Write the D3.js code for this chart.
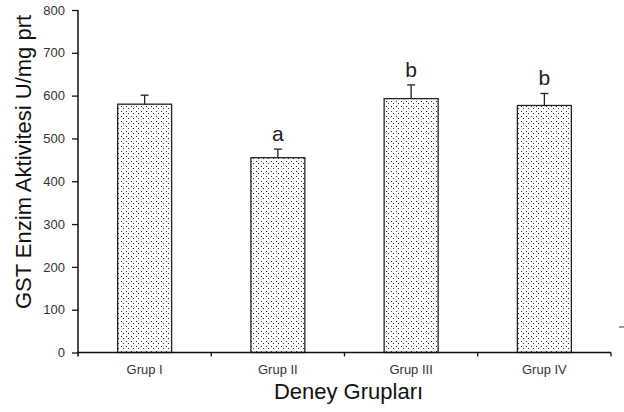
<!DOCTYPE html>
<html><head><meta charset="utf-8">
<script src="https://cdn.jsdelivr.net/npm/d3@7"></script>
<style>body{margin:0;background:#fff}svg{display:block}text{font-family:Arial,"Liberation Sans",sans-serif}</style>
</head><body><svg id="c" width="624" height="412"></svg>
<script>
const groups = ["Grup I","Grup II","Grup III","Grup IV"];
const means = [580, 455, 593, 577];
const errors = [21, 20, 32, 28];
const letters = ["", "a", "b", "b"];
const yTicks = [0,100,200,300,400,500,600,700,800];

const svg = d3.select("#c");
const defs = svg.append("defs");
const pat = defs.append("pattern").attr("id","dots").attr("patternUnits","userSpaceOnUse")
  .attr("width",5).attr("height",5);
pat.append("rect").attr("width",5).attr("height",5).attr("fill","#fff");
pat.append("rect").attr("x",1).attr("y",1).attr("width",1).attr("height",1).attr("fill","#333");
pat.append("rect").attr("x",3).attr("y",3).attr("width",1).attr("height",1).attr("fill","#333");

const x0 = 78, x1 = 611, yTop = 10, yBot = 352.5;
const y = d3.scaleLinear().domain([0,800]).range([yBot,yTop]);
const x = d3.scaleBand().domain(groups).range([x0,x1]).paddingInner(0.595).paddingOuter(0.2975);
const step = x.step();

// bars
svg.append("g").selectAll("rect").data(groups).join("rect")
  .attr("x", d=>x(d)).attr("width", x.bandwidth())
  .attr("y", (d,i)=>y(means[i])).attr("height", (d,i)=>yBot - y(means[i]))
  .attr("fill","url(#dots)").attr("stroke","#222").attr("stroke-width",1.3);

// error bars
const eb = svg.append("g").attr("stroke","#222").attr("stroke-width",1.3);
groups.forEach((g,i)=>{
  const cx = x(g)+x.bandwidth()/2;
  eb.append("line").attr("x1",cx).attr("x2",cx).attr("y1",y(means[i])).attr("y2",y(means[i]+errors[i]));
  eb.append("line").attr("x1",cx-4).attr("x2",cx+4).attr("y1",y(means[i]+errors[i])).attr("y2",y(means[i]+errors[i]));
});

// letters
svg.append("g").selectAll("text").data(groups).join("text")
  .attr("x", d=>x(d)+x.bandwidth()/2)
  .attr("y", (d,i)=>y(means[i]+errors[i]) - 8)
  .attr("text-anchor","middle").attr("font-size",21).attr("fill","#222")
  .text((d,i)=>letters[i]);

// y axis
const ya = svg.append("g").attr("transform",`translate(${x0},0)`)
  .call(d3.axisLeft(y).tickValues(yTicks).tickSize(6).tickPadding(7));
ya.select(".domain").attr("stroke","#111").attr("stroke-width",1.5).attr("d",`M0,${yTop}V${yBot+4}`);
ya.selectAll(".tick line").attr("stroke","#111").attr("stroke-width",1.3);
ya.selectAll(".tick text").attr("font-size",13).attr("fill","#333").attr("font-family","Arial, 'Liberation Sans', sans-serif");

// x axis
const xa = svg.append("g").attr("transform",`translate(0,${yBot})`)
  .call(d3.axisBottom(x).tickSize(0));
xa.select(".domain").attr("stroke","#111").attr("stroke-width",1.5).attr("d",`M${x0},0H${x1}`);
xa.selectAll(".tick text").attr("font-size",13).attr("fill","#333").attr("y",21.5).attr("dy",0)
  .attr("font-family","Arial, 'Liberation Sans', sans-serif");
const bounds = d3.range(1, groups.length+1).map(i=>x0 + i*step);
xa.selectAll("line.bnd").data(bounds).join("line").attr("class","bnd")
  .attr("x1",d=>d).attr("x2",d=>d).attr("y1",0).attr("y2",4).attr("stroke","#111").attr("stroke-width",1.3);

// titles
svg.append("text").attr("x",(x0+x1)/2 + 4).attr("y",399).attr("text-anchor","middle")
  .attr("font-size",22).attr("fill","#111").text("Deney Grupları");
svg.append("text").attr("transform","translate(31,162) rotate(-90)").attr("text-anchor","middle")
  .attr("font-size",22).attr("fill","#111").text("GST Enzim Aktivitesi U/mg prt");

// stray mark at right edge
svg.append("line").attr("x1",619).attr("x2",624).attr("y1",327).attr("y2",327).attr("stroke","#333").attr("stroke-width",1);
</script></body></html>
